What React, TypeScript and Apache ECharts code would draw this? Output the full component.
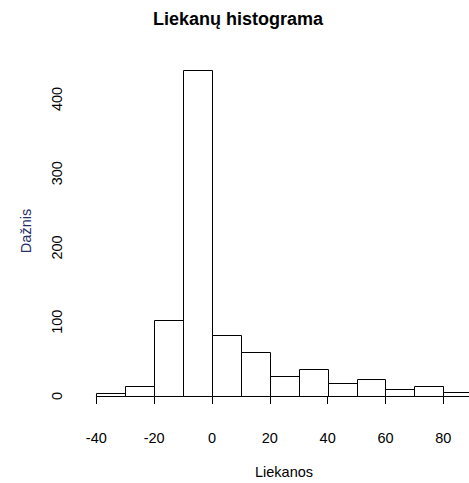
import React, { useEffect, useRef } from "react";
import * as echarts from "echarts";

const binStarts = [-40, -30, -20, -10, 0, 10, 20, 30, 40, 50, 60, 70, 80];
const binWidth = 10;
const counts = [4, 13, 103, 439, 82, 59, 27, 36, 17, 23, 9, 13, 5];
const xTicks = [-40, -20, 0, 20, 40, 60, 80];
const yTicks = [0, 100, 200, 300, 400];

const titleText = "Liekanų histograma";
const xLabel = "Liekanos";
const yLabel = "Dažnis";

export default function App() {
  const ref = useRef<HTMLDivElement>(null);
  useEffect(() => {
    if (!ref.current) return;
    const chart = echarts.init(ref.current, undefined, { renderer: "svg" });
    const data = binStarts.map((s, i) => [s, s + binWidth, counts[i]]);
    const font = "'Liberation Sans', Arial, sans-serif";
    chart.setOption({
      animation: false,
      backgroundColor: "#ffffff",
      grid: { left: 96.3, right: 25.7, top: 99, bottom: 87 },
      xAxis: {
        type: "value",
        min: xTicks[0],
        max: xTicks[xTicks.length - 1],
        interval: 20,
        offset: 13,
        axisLine: { show: true, lineStyle: { color: "#000", width: 1 } },
        axisTick: { show: true, length: 8, lineStyle: { color: "#000" } },
        axisLabel: { color: "#000", fontSize: 14.5, fontFamily: font, margin: 21 },
        splitLine: { show: false },
      },
      yAxis: {
        type: "value",
        min: yTicks[0],
        max: yTicks[yTicks.length - 1],
        interval: 100,
        offset: 15.3,
        axisLine: { show: true, lineStyle: { color: "#000", width: 1 } },
        axisTick: { show: true, length: 8, lineStyle: { color: "#000" } },
        axisLabel: { color: "#000", fontSize: 14.5, fontFamily: font, rotate: 90, margin: 17 },
        splitLine: { show: false },
      },
      series: [
        {
          type: "custom",
          clip: false,
          data,
          encode: { x: [0, 1], y: 2 },
          renderItem: (params: any, api: any) => {
            const p0 = api.coord([api.value(0), 0]);
            const p1 = api.coord([api.value(1), api.value(2)]);
            return {
              type: "rect",
              shape: {
                x: Math.round(p0[0]) + 0.5,
                y: Math.round(p1[1]) + 0.5,
                width: Math.round(p1[0]) - Math.round(p0[0]),
                height: Math.round(p0[1]) - Math.round(p1[1]),
              },
              style: { fill: "#ffffff", stroke: "#000000", lineWidth: 1 },
            };
          },
        },
      ],
      graphic: [
        {
          type: "text",
          x: 238,
          y: 19,
          style: {
            text: titleText,
            fontSize: 18,
            fontWeight: "bold",
            fontFamily: font,
            fill: "#000",
            align: "center",
            verticalAlign: "middle",
          },
        },
        {
          type: "text",
          x: 284,
          y: 472,
          style: {
            text: xLabel,
            fontSize: 14.5,
            fontFamily: font,
            fill: "#000",
            align: "center",
            verticalAlign: "middle",
          },
        },
        {
          type: "text",
          x: 26,
          y: 231,
          rotation: Math.PI / 2,
          style: {
            text: yLabel,
            fontSize: 14.5,
            fontFamily: font,
            fill: "#252e66",
            align: "center",
            verticalAlign: "middle",
          },
        },
      ],
    });
    return () => chart.dispose();
  }, []);
  return (
    <div
      ref={ref}
      style={{ position: "absolute", left: 0, top: 0, width: 469, height: 483, background: "#fff" }}
    />
  );
}
